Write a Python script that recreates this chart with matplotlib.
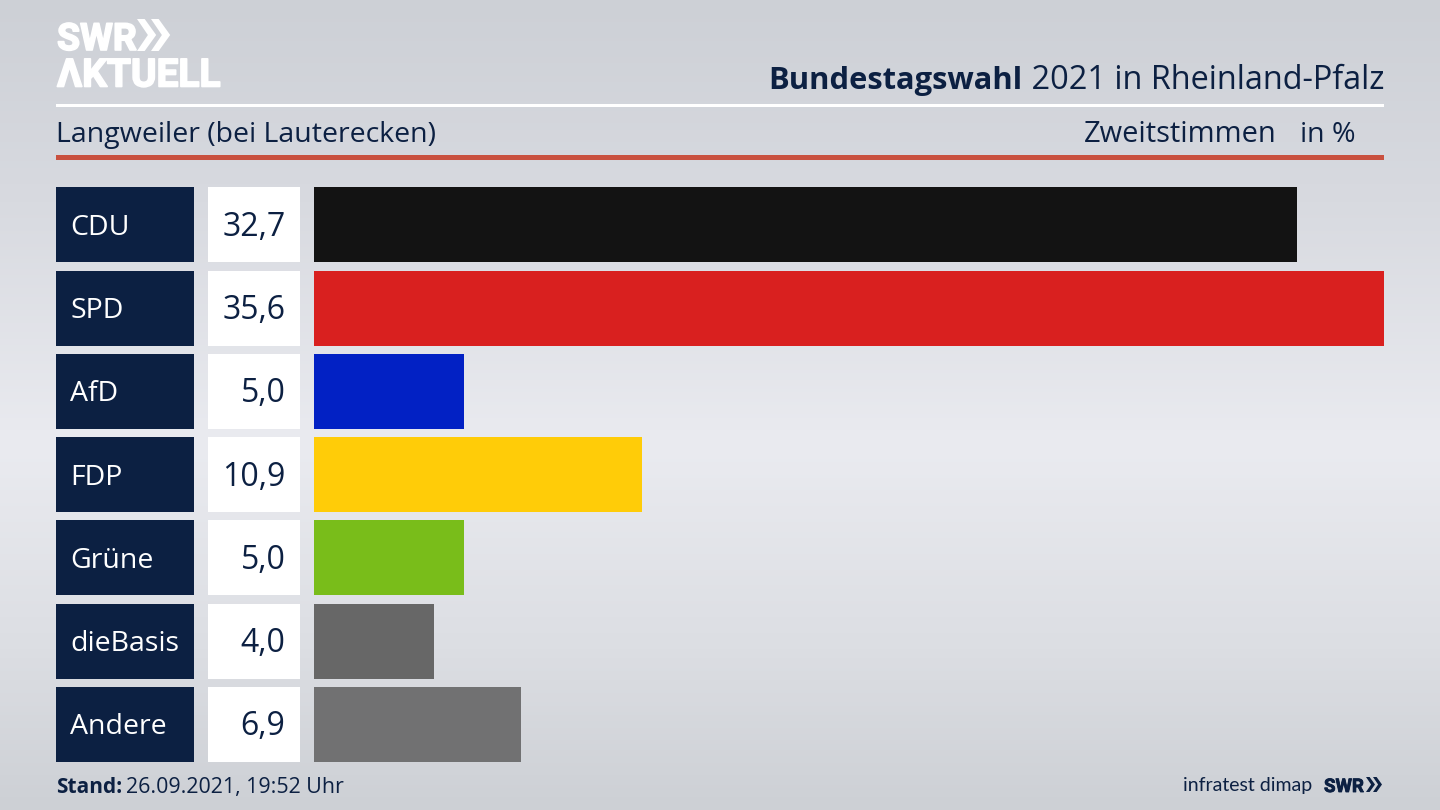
import matplotlib
matplotlib.use("Agg")
import matplotlib.pyplot as plt
import matplotlib.patheffects as pe
import numpy as np
from matplotlib.colors import LinearSegmentedColormap
from matplotlib.patches import Polygon, Rectangle

parties = ["CDU", "SPD", "AfD", "FDP", "Grüne", "dieBasis", "Andere"]
values = [32.7, 35.6, 5.0, 10.9, 5.0, 4.0, 6.9]
value_labels = ["32,7", "35,6", "5,0", "10,9", "5,0", "4,0", "6,9"]
colors = ["#131313", "#d9201f", "#0221c4", "#ffcc08", "#79bd1a", "#676767", "#717172"]

NAVY = "#0c2042"
W, H = 1440, 810
LOGO_FONT = ["Roboto", "Open Sans", "DejaVu Sans"]
plt.rcParams["font.family"] = ["Open Sans", "Noto Sans", "DejaVu Sans"]

fig = plt.figure(figsize=(14.4, 8.1), dpi=100)

# hintergrund + alles in pixelkoordinaten
bg = fig.add_axes([0, 0, 1, 1])
bg.set_xlim(0, W); bg.set_ylim(H, 0); bg.axis("off")
cmap = LinearSegmentedColormap.from_list(
    "bg", [(0, "#cdd0d6"), (0.25, "#d8dae0"), (0.55, "#eaebf0"), (0.8, "#dcdee3"), (1, "#cdd0d5")])
bg.imshow(np.linspace(0, 1, 256).reshape(-1, 1), cmap=cmap, aspect="auto",
          extent=[0, W, H, 0], zorder=0)
bg.set_xlim(0, W); bg.set_ylim(H, 0)

def chevrons(x, y, h, color, gap):
    for i in range(2):
        x0 = x + i * gap
        bg.add_patch(Polygon([(x0, y), (x0 + 0.24 * h, y), (x0 + 0.6 * h, y + h / 2),
                              (x0 + 0.24 * h, y + h), (x0, y + h), (x0 + 0.34 * h, y + h / 2)],
                             fc=color, ec="none", zorder=3))

# logo
fat = [pe.withStroke(linewidth=1.2, foreground="white")]
bg.text(57, 50, "SWR", color="white", fontsize=27, fontweight="bold", family=LOGO_FONT,
        va="baseline", zorder=3, path_effects=fat)
chevrons(137, 19, 32, "white", 14)
bg.text(57, 86.5, "ΛKTUELL", color="white", fontsize=28, fontweight="bold",
        family=LOGO_FONT, va="baseline", zorder=3, path_effects=fat)

# kopf
bg.add_patch(Rectangle((56, 104), 1328, 3, fc="white", ec="none", zorder=2))
bg.add_patch(Rectangle((56, 155), 1328, 5, fc="#c9503f", ec="none", zorder=2))
t = bg.text(1384, 89, " 2021 in Rheinland-Pfalz", color=NAVY, fontsize=23.4, ha="right", va="baseline", zorder=3)
fig.canvas.draw()
x_left = bg.transData.inverted().transform(t.get_window_extent().get_points())[0, 0]
bg.text(x_left, 89, "Bundestagswahl", color=NAVY, fontsize=22.2, fontweight="bold",
        ha="right", va="baseline", zorder=3)
bg.text(56, 142, "Langweiler (bei Lauterecken)", color=NAVY, fontsize=20.5, va="baseline", zorder=3)
bg.text(1277, 142, "Zweitstimmen", color=NAVY, fontsize=20.9, ha="right", va="baseline", zorder=3)
bg.text(1355, 142, "in %", color=NAVY, fontsize=20.5, ha="right", va="baseline", zorder=3)

# zeilen
y0, step, bh = 187.4, 83.25, 75
for i, (p, v) in enumerate(zip(parties, value_labels)):
    top = y0 + i * step
    bg.add_patch(Rectangle((56, top), 138, bh, fc=NAVY, ec="none", zorder=2))
    bg.add_patch(Rectangle((208, top), 92, bh, fc="white", ec="none", zorder=2))
    bg.text(70, top + bh / 2 + 10, p, color="white", fontsize=20.5, va="baseline", zorder=3)
    bg.text(285.5, top + bh / 2 + 11, v, color=NAVY, fontsize=23, ha="right", va="baseline", zorder=3)

# balken
top_ax = y0 - (step - bh) / 2
bottom_ax = top_ax + step * len(parties)
ax = fig.add_axes([314 / W, 1 - bottom_ax / H, (1384 - 314) / W, (bottom_ax - top_ax) / H])
ax.patch.set_alpha(0)
ax.barh(range(len(parties)), values, height=bh / step, color=colors)
ax.set_xlim(0, 35.6)
ax.set_ylim(len(parties) - 0.5, -0.5)
ax.axis("off")

# fuss
t = bg.text(56, 793, "Stand:", color=NAVY, fontsize=15, fontweight="bold", va="baseline", zorder=3)
fig.canvas.draw()
x_end = bg.transData.inverted().transform(t.get_window_extent().get_points())[1, 0]
bg.text(x_end + 4, 793, "26.09.2021, 19:52 Uhr", color=NAVY, fontsize=15.4, va="baseline", zorder=3)
bg.text(1312, 791, "infratest dimap", color=NAVY, fontsize=14, family="Lato", ha="right", va="baseline", zorder=3)
bg.text(1324, 792, "SWR", color=NAVY, fontsize=13.5, fontweight="bold", family=LOGO_FONT, va="baseline", zorder=3,
        path_effects=[pe.withStroke(linewidth=0.6, foreground=NAVY)])
chevrons(1366, 777, 15, NAVY, 7)

fig.savefig("out.png", dpi=100)
